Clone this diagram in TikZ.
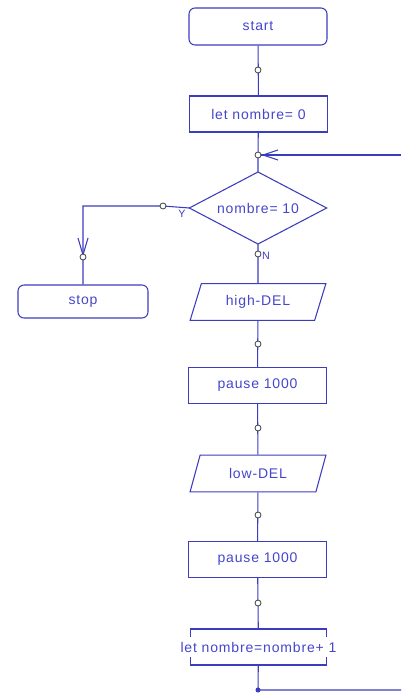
\documentclass[tikz,border=0pt]{standalone}
\usepackage{fontspec}
\setmainfont{Liberation Sans}
\usetikzlibrary{shapes.geometric}
\definecolor{fc}{RGB}{60,60,190}
\definecolor{tc}{RGB}{70,70,205}
\begin{document}
\begin{tikzpicture}[x={(0.75pt,0)},y={(0,-0.75pt)},
 every node/.style={text=tc,font=\fontsize{10.5}{12}\selectfont\addfontfeatures{LetterSpace=6}},
 base/.style={draw=fc,line width=0.8pt,inner sep=0pt},
 term/.style={base,rounded corners=4.5pt,minimum width=103.5pt,minimum height=27.75pt},
 proc/.style={base,rectangle,minimum width=103.5pt,minimum height=27pt},
 io/.style={base,trapezium,trapezium left angle=64,trapezium right angle=116,trapezium stretches=true,minimum width=102pt,minimum height=27.5pt},
 dec/.style={inner sep=0pt,outer sep=0pt,minimum width=103pt,minimum height=54pt},
 conn/.style={draw=fc,line width=0.8pt},
 dotc/.style={circle,draw=black!75,fill=white,line width=0.6pt,inner sep=0pt,minimum size=4.5pt},
 lbl/.style={text=fc,font=\fontsize{8}{9}\selectfont},
 ]
\useasboundingbox[fill=white] (0,0) rectangle (401,695);
% shapes
\node[term] (start) at (258,26.5) {start};
\node[proc] (let0) at (258.5,114) {let nombre= 0};
\node[dec] (dec) at (258,208) {nombre= 10};
\draw[conn] (dec.north) -- (dec.east) -- (dec.south) -- (dec.west) -- cycle;
\node[term,minimum width=97.5pt,minimum height=24.75pt] (stop) at (83,301.5) {stop};
\node[io] (high) at (258,302) {high-DEL};
\node[proc] (p1) at (257.5,385.5) {pause 1000};
\node[io] (low) at (258,473.5) {low-DEL};
\node[proc] (p2) at (257.5,559.5) {pause 1000};
\node[inner sep=0pt,minimum width=102pt,minimum height=27pt] (incr) at (258.5,647) {let nombre=nombre+ 1};
\draw[conn] ([shift={(-68,-10)}]incr.center) -- ++(0,-8) -- ++(136,0) -- ++(0,8);
\draw[conn] ([shift={(-68,10)}]incr.center) -- ++(0,8) -- ++(136,0) -- ++(0,-8);
% coordinates
\coordinate (j1) at (258,155);
\coordinate (r1) at (401,155);
\coordinate (j2) at (258,690);
\coordinate (r2) at (401,690);
\coordinate (yc) at (83,206);
% connectors
\draw[conn] (start) -- (let0);
\draw[conn] (let0) -- (j1) -- (dec.north);
\draw[conn] (r1) -- (j1);
\draw[conn] ([shift={(20,-5)}]j1) -- ([shift={(5,0)}]j1) -- ([shift={(20,5)}]j1);
\draw[conn] (dec.west) -- (163,206) -- (yc) -- (stop.north);
\draw[conn] (78,238) -- (83,255) -- (88,238);
\draw[conn] (dec.south) -- (high);
\draw[conn] (high) -- (p1);
\draw[conn] (p1) -- (low);
\draw[conn] (low) -- (p2);
\draw[conn] (p2) -- (incr);
\draw[conn] (incr) -- (j2) -- (r2);
% small circles
\node[dotc] (c1) at (258,70) {};
\node[dotc] (c2) at (258,155) {};
\node[dotc] (c3) at (163,206) {};
\node[dotc] (c4) at (83,257) {};
\node[dotc] (c5) at (258,254) {};
\node[dotc] (c6) at (258,344) {};
\node[dotc] (c7) at (258,428) {};
\node[dotc] (c8) at (258,515) {};
\node[dotc] (c9) at (258,603) {};
\fill[fc] (j2) circle (2.5);
% labels
\node[lbl] (ly) at (182,214) {Y};
\node[lbl] (ln) at (266,256) {N};
\end{tikzpicture}
\end{document}
